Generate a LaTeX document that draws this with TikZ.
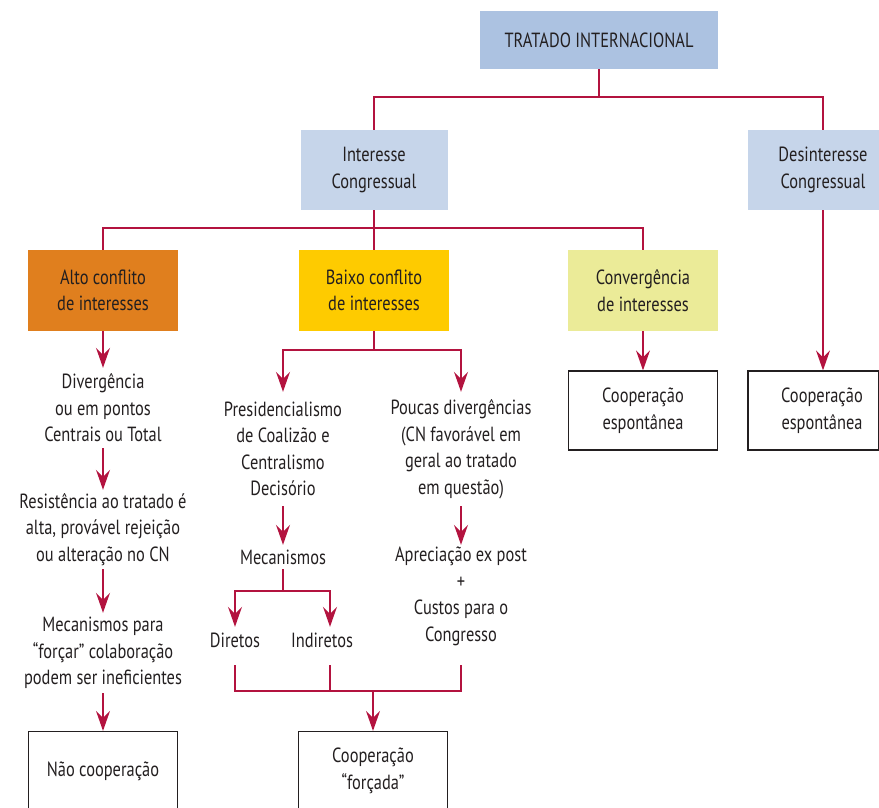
\documentclass[tikz,border=0pt]{standalone}
\usepackage{fontspec}
\setmainfont[FakeStretch=0.8]{PT Sans}
\usetikzlibrary{arrows.meta,calc}
\definecolor{txt}{HTML}{231F20}
\definecolor{tblue}{HTML}{ACC2E1}
\definecolor{lblue}{HTML}{C6D5EA}
\definecolor{orng}{HTML}{E07F1E}
\definecolor{yelw}{HTML}{FECB00}
\definecolor{conv}{HTML}{EBEB98}
\definecolor{lnc}{HTML}{B3133F}
\newcommand{\fs}{\fontsize{20.5}{26.5}\selectfont}
\tikzset{
 lbl/.style={font=\fs, text=txt, align=center, inner sep=0pt},
 boxf/.style={lbl, minimum width=150pt, minimum height=81pt},
 outbox/.style={lbl, draw=txt, line width=1.2pt, fill=white, minimum width=149pt, minimum height=79pt},
 con/.style={draw=lnc, line width=1.5pt},
 arr/.style={con, -{Stealth[length=20pt,width=14pt,inset=7pt]}},
}
\begin{document}
\begin{tikzpicture}[x=1pt,y=-1pt]
\useasboundingbox (0,0) rectangle (879,807);
% top level
\node[boxf, fill=tblue, minimum width=238pt, minimum height=58pt] (tratado) at (599,40) {TRATADO INTERNACIONAL};
\node[boxf, fill=lblue, minimum width=147pt, minimum height=80pt] (interesse) at (374,170) {Interesse\\Congressual};
\node[fill=lblue, minimum width=131pt, minimum height=80pt, inner sep=0pt] (desintbox) at (813.5,170) {};
\node[lbl] (desint) at (823,170) {Desinteresse\\Congressual};
% second level
\node[boxf, fill=orng] (alto) at (103,290.5) {Alto conflito\\de interesses};
\node[boxf, fill=yelw] (baixo) at (374,290.5) {Baixo conflito\\de interesses};
\node[boxf, fill=conv] (conv) at (643,290.5) {Converg\^encia\\de interesses};
\node[outbox] (coop1) at (643,410.5) {Coopera\c{c}\~ao\\espont\^anea};
\node[draw=txt, line width=1.2pt, fill=white, minimum width=131pt, minimum height=79pt, inner sep=0pt] (coop2box) at (813.5,410.5) {};
\node[lbl] (coop2) at (822,410.5) {Coopera\c{c}\~ao\\espont\^anea};
% left column
\node[lbl, minimum height=80pt] (div) at (103,408) {Diverg\^encia\\ou em pontos\\Centrais ou Total};
\node[lbl, minimum height=79pt] (res) at (103,529.5) {Resist\^encia ao tratado \'e\\alta, prov\'avel rejei\c{c}\~ao\\ou altera\c{c}\~ao no CN};
\node[lbl, minimum height=80pt] (mec) at (103,653) {Mecanismos para\\``for\c{c}ar'' colabora\c{c}\~ao\\podem ser ineficientes};
\node[outbox] (nao) at (103,771) {N\~ao coopera\c{c}\~ao};
% middle columns
\node[lbl, minimum height=114pt] (pres) at (283,449) {Presidencialismo\\de Coaliz\~ao e\\Centralismo\\Decis\'orio};
\node[lbl, minimum height=114pt] (poucas) at (461,449) {Poucas diverg\^encias\\(CN favor\'avel em\\geral ao tratado\\em quest\~ao)};
\node[lbl, minimum height=24pt] (mecs) at (283,557) {Mecanismos};
\node[lbl, minimum height=103pt] (apre) at (461,596.5) {Aprecia\c{c}\~ao ex post\\+\\Custos para o\\Congresso};
\node[lbl, minimum height=26pt] (dir) at (235,640) {Diretos};
\node[lbl, minimum height=26pt] (indir) at (322,640) {Indiretos};
\node[outbox] (forc) at (373,771) {Coopera\c{c}\~ao\\``for\c{c}ada''};
% junctions
\coordinate (j1) at (599,97);
\coordinate (j2) at (374,228);
\coordinate (j3) at (374,350);
\coordinate (j4) at (283,591);
\coordinate (j5) at (373,691);
% connectors
\draw[con] (tratado.south) -- (j1);
\draw[con] (interesse.north) |- (j1) -| (desintbox.north -| desint.north);
\draw[con] (interesse.south) -- (j2);
\draw[con] (alto.north) |- (j2) -| (conv.north);
\draw[con] (baixo.north) -- (j2);
\draw[arr] (desintbox.south -| desint.north) -- (coop2box.north -| desint.north);
\draw[arr] (conv.south) -- (coop1.north);
\draw[arr] (alto.south) -- (div.north);
\draw[arr] (div.south) -- (res.north);
\draw[arr] (res.south) -- (mec.north);
\draw[arr] (mec.south) -- (nao.north);
\draw[con] (baixo.south) -- (j3);
\draw[arr] (j3) -| (pres.north);
\draw[arr] (j3) -| (poucas.north);
\draw[arr] (pres.south) -- (mecs.north);
\draw[arr] (poucas.south) -- (apre.north);
\draw[con] (mecs.south) -- (j4);
\draw[arr] (j4) -| (dir.north);
\draw[arr] (j4) -| ($(indir.north)+(8,0)$);
\draw[con] ($(dir.south)+(0,12)$) |- (j5);
\draw[con] ($(indir.south)+(8,12)$) -- ($(indir.south |- j5)+(8,0)$);
\draw[con] ($(apre.south)+(0,17)$) |- (j5);
\draw[arr] (j5) -- (forc.north);
\end{tikzpicture}
\end{document}
